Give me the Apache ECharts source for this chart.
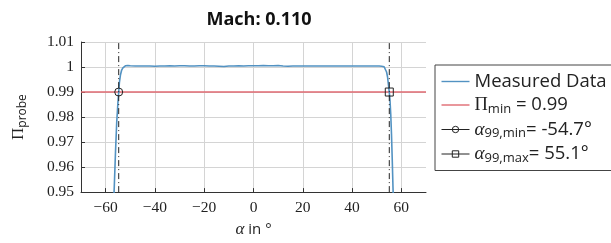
<!DOCTYPE html>
<html>
<head>
<meta charset="utf-8">
<script src="https://cdn.jsdelivr.net/npm/echarts@6/dist/echarts.min.js"></script>
<style>
  html, body { margin: 0; padding: 0; background: #fff; }
  #chart { width: 611px; height: 243px; }
</style>
</head>
<body>
<div id="chart"></div>
<script>
// measured probe ratio vs. angle
const alpha = [-57.5, -57, -56.5, -56, -55.5, -55, -54.7, -54.4, -54, -53.5, -53, -52.5, -52, -51, -50,
  -48, -46, -44, -42, -40, -38, -36, -34, -32, -30, -28, -26, -24, -22, -20, -18, -16, -14, -12, -10,
  -8, -6, -4, -2, 0, 2, 4, 6, 8, 10, 12, 14, 16, 18, 20, 22, 24, 26, 28, 30, 32, 34, 36, 38, 40, 42,
  44, 46, 48, 50, 51, 52, 53, 53.5, 54, 54.4, 54.8, 55.1, 55.4, 55.7, 56, 56.3, 56.6, 57, 57.5];
const piProbe = [0.930, 0.940, 0.952, 0.966, 0.978, 0.986, 0.990, 0.994, 0.9968, 0.9988, 0.9997, 1.0002, 1.0005, 1.0006, 1.0005,
  1.0004, 1.0004, 1.0004, 1.0004, 1.0003, 1.0004, 1.0004, 1.0005, 1.0004, 1.0005, 1.0005, 1.0004, 1.0004, 1.0005, 1.0005, 1.0004, 1.0004, 1.0003, 1.0002, 1.0004,
  1.0004, 1.0005, 1.0004, 1.0005, 1.0005, 1.0005, 1.0006, 1.0005, 1.0005, 1.0006, 1.0004, 1.0003, 1.0004, 1.0004, 1.0004, 1.0004, 1.0004, 1.0004, 1.0004, 1.0004, 1.0004, 1.0004, 1.0004, 1.0004, 1.0004, 1.0004,
  1.0004, 1.0004, 1.0004, 1.0004, 1.0004, 1.0003, 1.0001, 0.9995, 0.998, 0.996, 0.9925, 0.990, 0.9865, 0.981, 0.973, 0.963, 0.952, 0.940, 0.925];
const piMin = 0.99;
const alphaMin = -54.7;
const alphaMax = 55.1;
const xTicks = [-60, -40, -20, 0, 20, 40, 60];

const chart = echarts.init(document.getElementById('chart'));
const serif = "'Liberation Serif', 'DejaVu Serif', serif";
const sans = "'Open Sans', sans-serif";
const lineIcon = 'path://M0,0H28V1.4H0Z';

const legendText = {
  'Measured Data': '{t|Measured Data}',
  'pimin': '{p|Π}{s|min}{t| = 0.99}',
  'amin': '{a|α}{s|99,min}{t|= -54.7°}',
  'amax': '{a|α}{s|99,max}{t|= 55.1°}'
};

chart.setOption({
  animation: false,
  title: {
    text: 'Mach: 0.110',
    left: 254, top: 6, textAlign: 'center',
    textStyle: { fontFamily: sans, fontWeight: 'bold', fontSize: 18, color: '#111' }
  },
  grid: { left: 81, right: 185, top: 42, bottom: 50 },
  legend: {
    orient: 'vertical',
    left: 435, top: 65,
    padding: [7, 8, 6, 6],
    itemGap: 3.5,
    itemWidth: 28, itemHeight: 8,
    borderColor: '#444', borderWidth: 1,
    backgroundColor: '#fff',
    data: [
      { name: 'Measured Data', icon: lineIcon },
      { name: 'pimin', icon: lineIcon },
      { name: 'amin', lineStyle: { type: 'solid', width: 1 }, itemStyle: { borderWidth: 1 } },
      { name: 'amax', lineStyle: { type: 'solid', width: 1 }, itemStyle: { borderWidth: 1 } }
    ],
    formatter: n => legendText[n],
    textStyle: {
      color: '#222',
      rich: {
        t: { fontFamily: sans, fontSize: 18.5, lineHeight: 20, color: '#222' },
        p: { fontFamily: serif, fontSize: 18.5, lineHeight: 20, color: '#222' },
        a: { fontFamily: serif, fontStyle: 'italic', fontSize: 19, lineHeight: 20, color: '#222' },
        s: { fontFamily: sans, fontSize: 13, lineHeight: 20, padding: [8, 0, 0, 0], color: '#222' }
      }
    }
  },
  xAxis: {
    type: 'value', min: -70, max: 70,
    name: '{a|α}{t| in °}', nameLocation: 'middle', nameGap: 28,
    nameTextStyle: {
      rich: {
        a: { fontFamily: serif, fontStyle: 'italic', fontSize: 17, color: '#222' },
        t: { fontFamily: sans, fontSize: 15, color: '#222' }
      }
    },
    axisLine: { lineStyle: { color: '#333', width: 1 } },
    axisTick: { inside: true, length: 4, customValues: xTicks, lineStyle: { color: '#333' } },
    axisLabel: {
      customValues: xTicks, margin: 8,
      fontFamily: serif, fontSize: 15.5, color: '#222',
      formatter: v => String(v).replace('-', '\u2212')
    },
    splitLine: { show: true, lineStyle: { color: '#d4d4d4', width: 1 } }
  },
  yAxis: {
    type: 'value', min: 0.95, max: 1.01, interval: 0.01,
    name: '{p|Π}{s|probe}', nameLocation: 'middle', nameGap: 52, nameRotate: 90,
    nameTextStyle: {
      rich: {
        p: { fontFamily: serif, fontSize: 17, color: '#222' },
        s: { fontFamily: sans, fontSize: 12, padding: [8, 0, 0, 0], color: '#222' }
      }
    },
    axisLine: { show: true, onZero: false, lineStyle: { color: '#333', width: 1 } },
    axisTick: { show: true, inside: true, length: 4, lineStyle: { color: '#333' } },
    axisLabel: {
      margin: 7,
      fontFamily: serif, fontSize: 15.5, color: '#222',
      formatter: v => String(parseFloat(v.toFixed(2)))
    },
    splitLine: { show: true, lineStyle: { color: '#d4d4d4', width: 1 } }
  },
  series: [
    {
      name: 'Measured Data', type: 'line', symbol: 'none',
      data: alpha.map((a, i) => [a, piProbe[i]]),
      lineStyle: { color: '#5292c2', width: 1.6 },
      itemStyle: { color: '#5292c2' },
      z: 3
    },
    {
      name: 'pimin', type: 'line', symbol: 'none',
      data: [[-70, piMin], [70, piMin]],
      lineStyle: { color: '#e06a72', width: 1.5 },
      itemStyle: { color: '#e06a72' },
      z: 2
    },
    {
      name: 'amin', type: 'line', symbol: 'circle', symbolSize: 8,
      data: [
        { value: [alphaMin, 0.95], symbol: 'none' },
        { value: [alphaMin, piMin] },
        { value: [alphaMin, 1.01], symbol: 'none' }
      ],
      lineStyle: { color: '#222', width: 1, type: [6, 3, 1, 3] },
      itemStyle: { color: 'transparent', borderColor: '#222', borderWidth: 1 },
      z: 4
    },
    {
      name: 'amax', type: 'line', symbol: 'rect', symbolSize: 8,
      data: [
        { value: [alphaMax, 0.95], symbol: 'none' },
        { value: [alphaMax, piMin] },
        { value: [alphaMax, 1.01], symbol: 'none' }
      ],
      lineStyle: { color: '#222', width: 1, type: [6, 3, 1, 3] },
      itemStyle: { color: 'transparent', borderColor: '#222', borderWidth: 1 },
      z: 4
    }
  ]
});
</script>
</body>
</html>
